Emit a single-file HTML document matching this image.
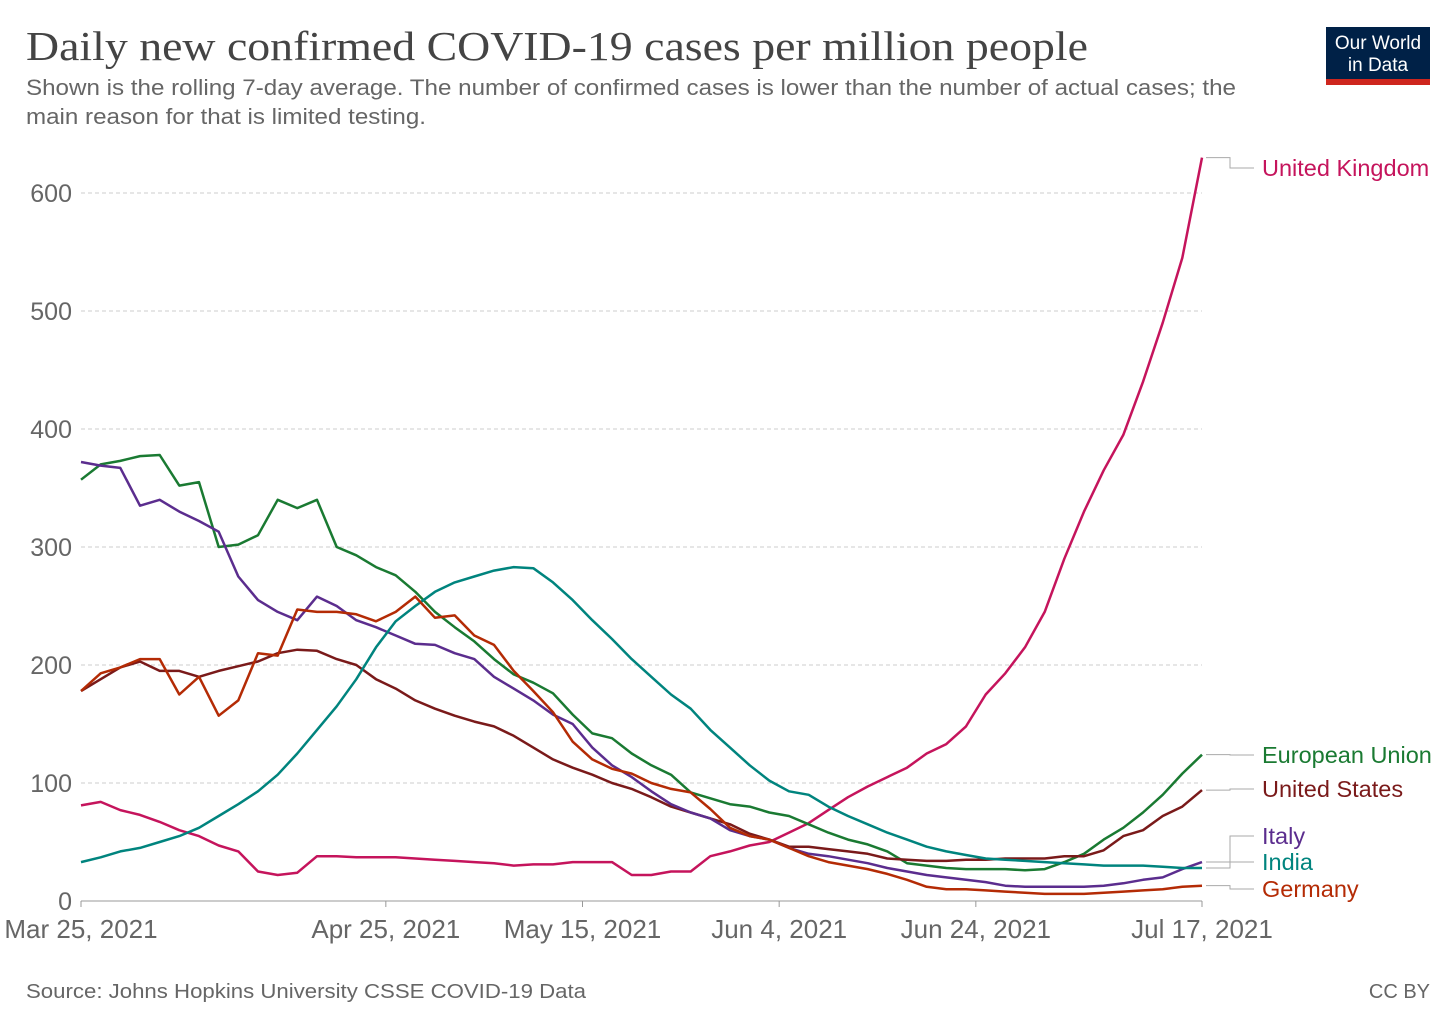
<!DOCTYPE html>
<html><head><meta charset="utf-8">
<style>
body{margin:0;background:#fff;width:1456px;height:1028px;overflow:hidden;font-family:"Liberation Sans",sans-serif;}
svg text{font-family:"Liberation Sans",sans-serif;}
</style></head>
<body>
<svg width="1456" height="1028">
<text x="26" y="60" font-size="41" fill="#444" textLength="1062" lengthAdjust="spacingAndGlyphs" style="font-family:'Liberation Serif',serif">Daily new confirmed COVID-19 cases per million people</text>
<text x="26" y="95" font-size="22" fill="#666" textLength="1210" lengthAdjust="spacingAndGlyphs">Shown is the rolling 7-day average. The number of confirmed cases is lower than the number of actual cases; the</text>
<text x="26" y="124" font-size="22" fill="#666" textLength="400" lengthAdjust="spacingAndGlyphs">main reason for that is limited testing.</text>
<g>
<rect x="1326" y="27" width="104" height="52" fill="#002147"/>
<rect x="1326" y="79" width="104" height="6" fill="#ce261e"/>
<text x="1378" y="49" font-size="19" fill="#fff" text-anchor="middle">Our World</text>
<text x="1378" y="71" font-size="19" fill="#fff" text-anchor="middle">in Data</text>
</g>
<g id="grid"></g>
<g id="lines"></g>
<g id="labels"></g>
<text x="26" y="998" font-size="20" fill="#666" textLength="560" lengthAdjust="spacingAndGlyphs">Source: Johns Hopkins University CSSE COVID-19 Data</text>
<text x="1430" y="998" font-size="20" fill="#666" text-anchor="end">CC BY</text>
</svg>
<script>
const days=[0,2,4,6,8,10,12,14,16,18,20,22,24,26,28,30,32,34,36,38,40,42,44,46,48,50,52,54,56,58,60,62,64,66,68,70,72,74,76,78,80,82,84,86,88,90,92,94,96,98,100,102,104,106,108,110,112,114];
const ukValues=[81,84,77,73,67,60,55,47,42,25,22,24,38,38,37,37,37,36,35,34,33,32,30,31,31,33,33,33,22,22,25,25,38,42,47,50,58,66,77,88,97,105,113,125,133,148,175,193,215,245,290,330,365,395,440,490,545,630];
const euValues=[357,370,373,377,378,352,355,300,302,310,340,333,340,300,293,283,276,262,245,232,220,205,192,185,176,158,142,138,125,115,107,92,87,82,80,75,72,65,58,52,48,42,32,30,28,27,27,27,26,27,33,40,52,62,75,90,108,124];
const usValues=[178,188,198,203,195,195,190,195,199,203,210,213,212,205,200,188,180,170,163,157,152,148,140,130,120,113,107,100,95,88,80,75,70,65,57,52,46,46,44,42,40,36,35,34,34,35,35,36,36,36,38,38,43,55,60,72,80,94];
const italyValues=[372,369,367,335,340,330,322,313,275,255,245,238,258,250,238,232,225,218,217,210,205,190,180,170,158,150,130,115,105,93,82,75,70,60,55,52,45,40,38,35,32,28,25,22,20,18,16,13,12,12,12,12,13,15,18,20,27,33];
const indiaValues=[33,37,42,45,50,55,62,72,82,93,107,125,145,165,188,215,237,250,262,270,275,280,283,282,270,255,238,222,205,190,175,163,145,130,115,102,93,90,80,72,65,58,52,46,42,39,36,35,34,33,32,31,30,30,30,29,28,28];
const germanyValues=[178,193,198,205,205,175,190,157,170,210,208,247,245,245,243,237,245,258,240,242,225,217,195,178,160,135,120,112,108,100,95,92,78,62,55,52,45,38,33,30,27,23,18,12,10,10,9,8,7,6,6,6,7,8,9,10,12,13];
const yTicks=[0,100,200,300,400,500,600];
const xTickDays=[0,31,51,71,91,114];
const xTickLabels=["Mar 25, 2021","Apr 25, 2021","May 15, 2021","Jun 4, 2021","Jun 24, 2021","Jul 17, 2021"];
const seriesNames=["United Kingdom","European Union","United States","Italy","India","Germany"];
const seriesColors=["#c5145c","#1a7a32","#7a1a1a","#5b2d8e","#00847e","#b42b05"];
const labelY=[168,755,789,836,862,889];

const NS="http://www.w3.org/2000/svg";
const X=d=>81+d*(1121/114);
const Y=v=>901-v*1.18;
function mk(t,a,p){const e=document.createElementNS(NS,t);for(const k in a)e.setAttribute(k,a[k]);p.appendChild(e);return e;}
const grid=document.getElementById('grid');
yTicks.forEach(v=>{
  if(v>0){const l=mk('line',{x1:81,x2:1202,y1:Y(v),y2:Y(v),stroke:'#ccc','stroke-dasharray':'4,3'},grid);
  
  }
  const t=mk('text',{x:72,y:Y(v)+9,'font-size':25,fill:'#666','text-anchor':'end'},grid);t.textContent=v;
  
  
});
const ax=mk('line',{x1:81,x2:1202,y1:901,y2:901,stroke:'#999'},grid);


xTickDays.forEach((d,i)=>{
  const tk=mk('line',{x1:X(d),x2:X(d),y1:901,y2:907,stroke:'#999'},grid);
  
  
  const t=mk('text',{x:X(d),y:938,'font-size':26,fill:'#666','text-anchor':'middle'},grid);t.textContent=xTickLabels[i];
  
  
});
const all=[ukValues,euValues,usValues,italyValues,indiaValues,germanyValues];
const lines=document.getElementById('lines'),labels=document.getElementById('labels');
all.forEach((vals,i)=>{
  const pts=days.map((d,j)=>X(d).toFixed(1)+','+Y(vals[j]).toFixed(1)).join(' ');
  const p=mk('polyline',{points:pts,fill:'none',stroke:seriesColors[i],'stroke-width':2.5,'stroke-linejoin':'round'},lines);
  
  
  const endY=Y(vals[vals.length-1]);
  const c=mk('polyline',{points:`1206,${endY} 1230,${endY} 1230,${labelY[i]} 1254,${labelY[i]}`,fill:'none',stroke:'#aaa','stroke-width':1},labels);
  
  
  const t=mk('text',{x:1262,y:labelY[i]+8,'font-size':23.5,fill:seriesColors[i]},labels);t.textContent=seriesNames[i];
  
  
});
</script>
</body></html>
